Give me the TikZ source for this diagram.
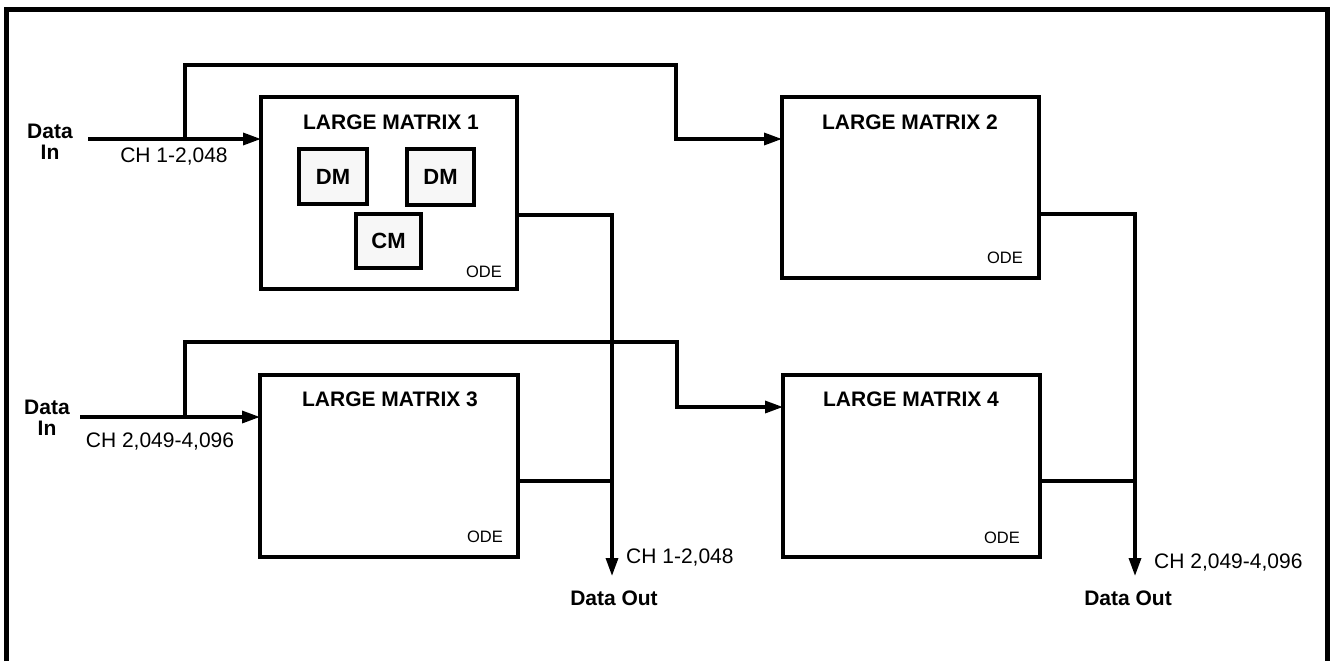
\documentclass[tikz,border=0pt]{standalone}
\usepackage{fontspec}
\setmainfont{Liberation Sans}
\usetikzlibrary{arrows.meta}
\begin{document}
\begin{tikzpicture}[x=1pt,y=-1pt,
  bigbox/.style={draw,line width=4.2pt,rectangle,inner sep=0pt,outer sep=0pt},
  smallbox/.style={draw,line width=3.2pt,fill=black!3,rectangle,inner sep=0pt,outer sep=0pt,
    minimum width=66pt,minimum height=54pt,font=\fontsize{22}{24}\selectfont\bfseries},
  title/.style={font=\fontsize{21}{23}\selectfont\bfseries,inner sep=0pt},
  odelbl/.style={font=\fontsize{16.5}{18}\selectfont,inner sep=0pt,anchor=east},
  chlbl/.style={font=\fontsize{21}{23}\selectfont,inner sep=0pt},
  datalbl/.style={font=\fontsize{21}{20.5}\selectfont\bfseries,inner sep=0pt,align=center},
  conn/.style={line width=3.3pt},
  arr/.style={conn,-{Triangle[length=18pt,width=12pt]}}]
\useasboundingbox (0,0) rectangle (1330,661);
% frame
\draw[line width=5.5pt] (6.5,661) -- (6.5,9.5) -- (1327.5,9.5) -- (1327.5,661);
% boxes
\node[bigbox,minimum width=256pt,minimum height=192pt] (b1) at (389,193) {};
\node[bigbox,minimum width=257pt,minimum height=181pt] (b2) at (910.5,187.5) {};
\node[bigbox,minimum width=258pt,minimum height=182pt] (b3) at (389,466) {};
\node[bigbox,minimum width=257pt,minimum height=182pt] (b4) at (911.5,466) {};
% titles
\node[title] (t1) at (391,122) {LARGE MATRIX 1};
\node[title] (t2) at (910,122) {LARGE MATRIX 2};
\node[title] (t3) at (390,399) {LARGE MATRIX 3};
\node[title] (t4) at (911,399) {LARGE MATRIX 4};
% inner boxes
\node[smallbox,minimum width=68pt,minimum height=55pt] (dm1) at (333,176.5) {DM};
\node[smallbox,minimum width=67pt,minimum height=56pt] (dm2) at (440.5,177) {DM};
\node[smallbox,minimum width=65pt,minimum height=54pt] (cm) at (388.5,241) {CM};
% ODE labels
\node[odelbl] (o1) at (502,272) {ODE};
\node[odelbl] (o2) at (1023,258) {ODE};
\node[odelbl] (o3) at (503,537) {ODE};
\node[odelbl] (o4) at (1020,538) {ODE};
% inputs
\node[datalbl] (din1) at (50,142) {Data\\In};
\node[datalbl] (din2) at (47,418) {Data\\In};
\node[chlbl] (ch1) at (174,157) {CH 1-2,048};
\node[chlbl] (ch2) at (160,442) {CH 2,049-4,096};
\coordinate (in1) at (88,139);
\coordinate (br1) at (185,139);
\coordinate (up1) at (185,65);
\coordinate (dn1) at (676,139);
\draw[arr] (in1) -- (b1.west |- in1);
\draw[arr] (br1) -- (up1) -| (dn1) -- (b2.west |- dn1);
\coordinate (in2) at (80,417);
\coordinate (br2) at (185,417);
\coordinate (up2) at (185,342);
\coordinate (dn2) at (677,407);
\draw[arr] (in2) -- (b3.west |- in2);
\draw[arr] (br2) -- (up2) -| (dn2) -- (b4.west |- dn2);
% outputs
\coordinate (j1) at (612,215);
\coordinate (m1) at (612,481);
\coordinate (e1) at (612,576);
\draw[arr] (b1.east |- j1) -- (j1) -- (e1);
\draw[conn] (b3.east |- m1) -- (m1);
\coordinate (j2) at (1135,214);
\coordinate (m2) at (1135,481);
\coordinate (e2) at (1135,576);
\draw[arr] (b2.east |- j2) -- (j2) -- (e2);
\draw[conn] (b4.east |- m2) -- (m2);
\node[chlbl,anchor=west] (cho1) at (626,558) {CH 1-2,048};
\node[chlbl,anchor=west] (cho2) at (1154,563) {CH 2,049-4,096};
\node[datalbl] (dout1) at (614,598) {Data Out};
\node[datalbl] (dout2) at (1128,598) {Data Out};
\end{tikzpicture}
\end{document}
